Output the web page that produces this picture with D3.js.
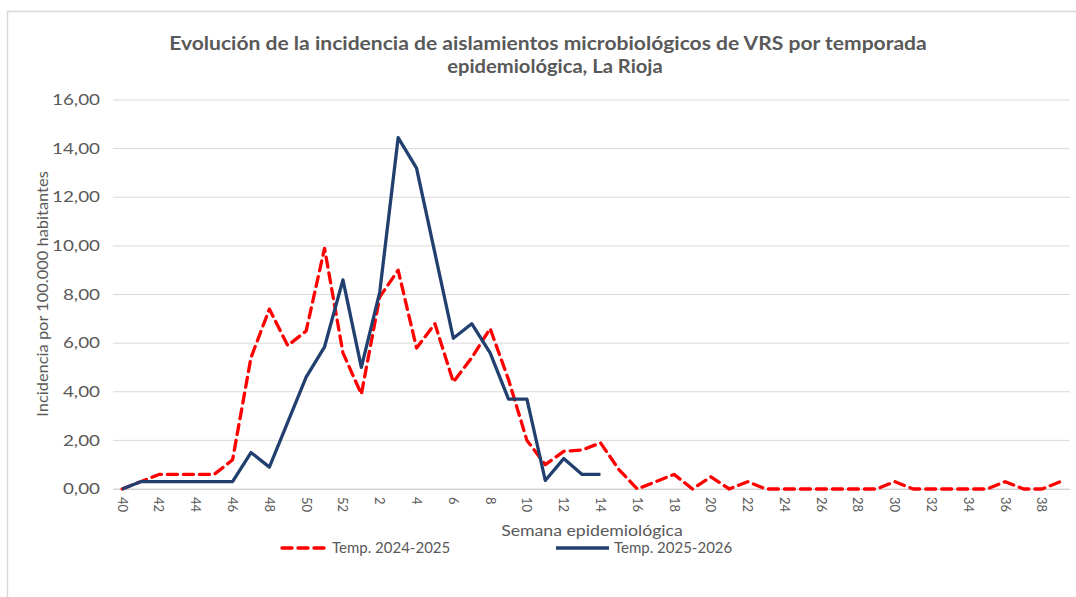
<!DOCTYPE html>
<html>
<head>
<meta charset="utf-8">
<script src="https://cdn.jsdelivr.net/npm/d3@7"></script>
<style>
  body { margin: 0; background: #fff; }
  text { font-family: Lato, "Open Sans", sans-serif; }
</style>
</head>
<body>
<svg id="chart" width="1076" height="597"></svg>
<script>
// semanas epidemiologicas (40-52 y 1-39)
const weeks = d3.range(40, 53).concat(d3.range(1, 40)).map(String);

const temp2425 = [0, 0.3, 0.6, 0.6, 0.6, 0.6, 1.2, 5.4, 7.4, 5.9, 6.5, 9.9, 5.6,
  3.9, 7.9, 9.0, 5.8, 6.8, 4.4, 5.4, 6.6, 4.5, 2.0, 1.0, 1.55, 1.6, 1.9,
  0.8, 0, 0.3, 0.6, 0, 0.5, 0, 0.3, 0, 0, 0, 0, 0, 0, 0, 0.3, 0, 0, 0, 0, 0, 0.3, 0, 0, 0.3];

const temp2526 = [0, 0.3, 0.3, 0.3, 0.3, 0.3, 0.3, 1.5, 0.9, 2.75, 4.6, 5.85, 8.6,
  5.0, 8.1, 14.45, 13.2, 9.7, 6.2, 6.8, 5.6, 3.7, 3.7, 0.35, 1.25, 0.6, 0.6];

const yTicks = [0, 2, 4, 6, 8, 10, 12, 14, 16];

const seriesNames = ["Temp. 2024-2025", "Temp. 2025-2026"];

const svg = d3.select("#chart");
const grey = "#595959";
const blue = "#22406f";
const esFmt = d3.formatLocale({decimal: ",", thousands: ".", grouping: [3], currency: ["", "€"]}).format(".2f");

// ensancha el texto medido (la fuente original es mas ancha)
function stretch(sel, k) {
  sel.each(function () {
    const len = this.getComputedTextLength();
    d3.select(this).attr("textLength", len * k).attr("lengthAdjust", "spacingAndGlyphs");
  });
}

// marco del grafico
svg.append("rect").attr("x", 7.5).attr("y", 11.5).attr("width", 1100).attr("height", 700)
  .attr("fill", "none").attr("stroke", "#d9d9d9").attr("stroke-width", 1.5);

const x = d3.scaleBand().domain(weeks).range([113, 1069.6]);
const y = d3.scaleLinear().domain([0, 16]).range([489, 100]);
const cx = d => x(d) + x.bandwidth() / 2;

// rejilla
svg.append("g").selectAll("line").data(yTicks).join("line")
  .attr("x1", 113).attr("x2", 1069.6)
  .attr("y1", d => y(d)).attr("y2", d => y(d))
  .attr("stroke", "#d9d9d9").attr("stroke-width", 1);

// eje y
const yAxis = svg.append("g").attr("transform", "translate(100,0)")
  .call(d3.axisLeft(y).tickValues(yTicks).tickFormat(esFmt).tickSize(0).tickPadding(0));
yAxis.select(".domain").remove();
yAxis.selectAll("text").attr("font-size", 14.5).attr("fill", grey).style("font-family", "Lato, sans-serif");
stretch(yAxis.selectAll("text"), 1.3);

// eje x
const xAxis = svg.append("g").attr("transform", "translate(0,489)")
  .call(d3.axisBottom(x).tickValues(weeks.filter((d, i) => i % 2 === 0)).tickSize(0));
xAxis.select(".domain").attr("stroke", "#d0d0d0");
xAxis.selectAll("text")
  .attr("font-size", 13).attr("fill", grey).style("font-family", "Lato, sans-serif")
  .attr("text-anchor", "start").attr("dy", "0.35em")
  .attr("transform", "translate(0,8) rotate(90)").attr("x", 0).attr("y", 0);

// lineas
const line = d3.line().x((d, i) => cx(weeks[i])).y(d => y(d));

svg.append("path").datum(temp2425)
  .attr("fill", "none").attr("stroke", "#ff0000").attr("stroke-width", 3.3)
  .attr("stroke-dasharray", "10,6").attr("stroke-linejoin", "round").attr("stroke-linecap", "round")
  .attr("d", line);

svg.append("path").datum(temp2526)
  .attr("fill", "none").attr("stroke", blue).attr("stroke-width", 3.3)
  .attr("stroke-linejoin", "round")
  .attr("d", line);

// titulo
const t1 = svg.append("text").attr("x", 548).attr("y", 50).attr("text-anchor", "middle")
  .attr("fill", grey).attr("font-size", 18).attr("font-weight", "bold")
  .text("Evolución de la incidencia de aislamientos microbiológicos de VRS por temporada");
const t2 = svg.append("text").attr("x", 555).attr("y", 73).attr("text-anchor", "middle")
  .attr("fill", grey).attr("font-size", 18).attr("font-weight", "bold")
  .text("epidemiológica, La Rioja");
stretch(t1, 1.17);
stretch(t2, 1.12);

// titulos de ejes
const xt = svg.append("text").attr("x", 592).attr("y", 536).attr("text-anchor", "middle")
  .attr("font-size", 15.5).attr("fill", grey).text("Semana epidemiológica");
stretch(xt, 1.14);

const yt = svg.append("text").attr("transform", "translate(48,294) rotate(-90)").attr("text-anchor", "middle")
  .attr("font-size", 15.5).attr("fill", grey).text("Incidencia por 100.000 habitantes");
stretch(yt, 1.06);

// leyenda
const legend = [
  {name: seriesNames[0], color: "#ff0000", dash: "10,6", x0: 282, x1: 327},
  {name: seriesNames[1], color: blue, dash: null, x0: 556, x1: 609}
];
const lg = svg.append("g").selectAll("g").data(legend).join("g");
lg.append("line").attr("x1", d => d.x0).attr("x2", d => d.x1).attr("y1", 548).attr("y2", 548)
  .attr("stroke", d => d.color).attr("stroke-width", 3.3)
  .attr("stroke-dasharray", d => d.dash).attr("stroke-linecap", d => d.dash ? "round" : "butt");
lg.append("text").attr("x", d => d.x1 + 5).attr("y", 553)
  .attr("font-size", 15).attr("fill", grey).text(d => d.name);
</script>
</body>
</html>
